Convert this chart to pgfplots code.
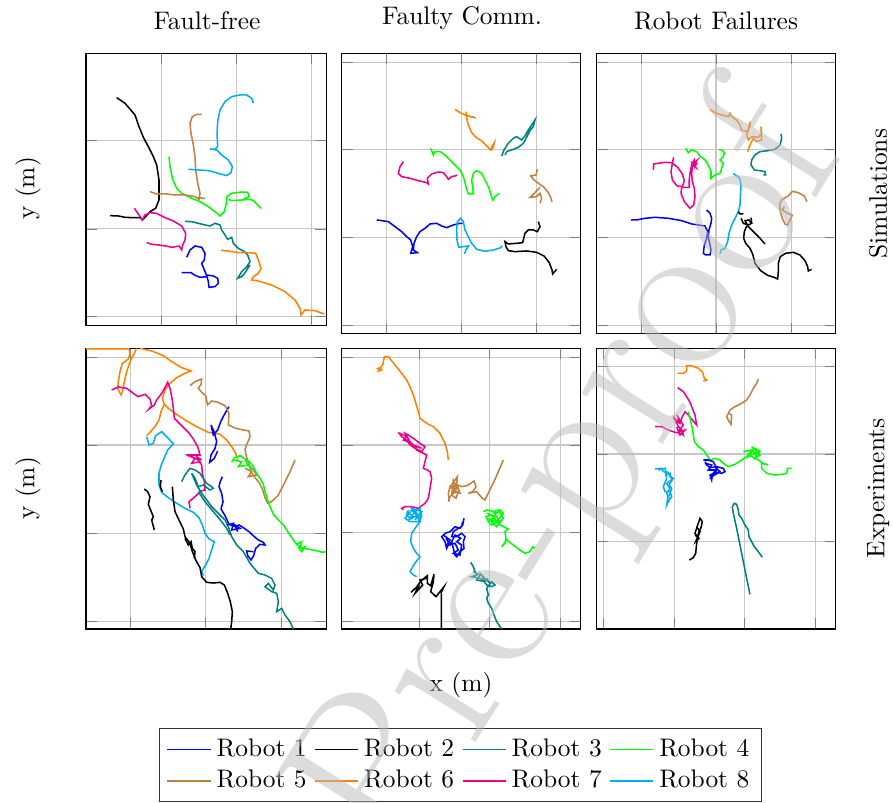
\documentclass[border=0pt]{standalone}
\usepackage{pgfplots}
\pgfplotsset{compat=1.18}
\definecolor{rbrown}{rgb}{0.75,0.5,0.25}
\definecolor{rorange}{rgb}{1,0.5,0}
\definecolor{rteal}{rgb}{0,0.5,0.5}
\definecolor{rgreen}{rgb}{0,1,0}
\definecolor{rmag}{RGB}{236,0,140}
\definecolor{rcyan}{RGB}{0,174,239}
\pgfplotsset{
  pan/.style={
    scale only axis, y dir=reverse, anchor=north west,
    xticklabels={}, yticklabels={},
    grid=major, major grid style={black!22},
    xmin=5, xmax=723, ymin=10, ymax=852,
    width=94.2pt, height=110.5pt,
    every axis plot/.append style={line width=0.6pt, no markers},
  },
}
\begin{document}
\begin{tikzpicture}
% titles and labels
\node[anchor=base] at (81.5pt,-11.42pt) {Fault-free};
\node[anchor=base] at (181.9pt,-9.45pt) {Faulty Comm.};
\node[anchor=base] at (281.9pt,-11.42pt) {Robot Failures};
\node[rotate=90] at (11.02pt,-74.2pt) {y (m)};
\node[rotate=90] at (11.02pt,-192.3pt) {y (m)};
\node[rotate=90] at (345.7pt,-76.2pt) {Simulations};
\node[rotate=90] at (345.7pt,-192.3pt) {Experiments};
\node at (181.5pt,-269.7pt) {x (m)};

% ---- simulations, fault-free
\begin{axis}[pan, at={(33.86pt,-20.98pt)}, width=94.49pt, height=107.35pt,
  xmin=3, xmax=723, ymin=10, ymax=828, xtick={228,455,680}, ytick={272,537,800}]
\addplot[blue] coordinates {(305,622)(315,600)(330,588)(350,592)(360,610)(358,630)(350,640)(356,655)(364,675)(385,678)(398,685)(400,700)(390,710)(372,712)(370,695)(366,680)(345,682)(330,676)(318,668)(290,668)};
\addplot[black] coordinates {(95,143)(120,160)(150,195)(162,230)(175,262)(190,290)(205,320)(215,345)(222,390)(222,450)(212,475)(195,485)(182,500)(172,510)(165,503)(140,503)(120,502)(100,498)(75,497)};
\addplot[rteal] coordinates {(300,514)(320,515)(340,520)(360,525)(375,528)(390,520)(405,525)(410,540)(420,555)(428,568)(440,562)(445,580)(460,595)(478,605)(488,615)(495,635)(485,650)(470,665)(458,685)(470,680)(480,668)(495,645)};
\addplot[rgreen] coordinates {(252,320)(255,350)(262,385)(275,415)(290,430)(320,445)(345,455)(370,470)(390,485)(405,498)(418,485)(424,460)(426,440)(440,430)(470,426)(488,427)(493,440)(470,450)(440,452)(430,448)(440,452)(470,450)(495,448)(505,452)(515,462)(528,475)};
\addplot[rbrown] coordinates {(195,425)(215,432)(245,432)(270,435)(300,435)(330,440)(342,448)(345,430)(338,400)(332,360)(330,320)(325,285)(318,250)(315,220)(322,200)(335,193)(350,193)};
\addplot[rbrown] coordinates {(338,442)(360,446)};
\addplot[rorange] coordinates {(408,601)(430,603)(460,608)(490,608)(512,610)(520,630)(528,655)(520,670)(505,680)(500,690)(520,693)(560,705)(600,725)(630,750)(645,775)(648,795)(660,780)(690,782)(718,792)};
\addplot[rmag] coordinates {(148,475)(160,492)(172,510)(180,495)(195,488)(215,490)(240,503)(265,513)(290,528)(302,550)(300,570)(293,585)(290,600)(282,588)(262,592)(240,588)(220,585)(200,583)(185,578)};
\addplot[rcyan] coordinates {(505,160)(500,145)(485,135)(465,135)(440,140)(420,155)(405,180)(398,215)(396,250)(398,290)(390,298)(375,297)(395,300)(410,315)(430,330)(442,350)(438,368)(425,377)(400,370)(370,362)(340,360)(310,358)};
\end{axis}

% ---- simulations, faulty comm
\begin{axis}[pan, at={(134.53pt,-20.98pt)}, xtick={138,363,590}, ytick={37,298,562,827}]
\addplot[rorange] coordinates {(345,178)(360,188)(378,196)(395,200)(407,204)(395,201)(380,196)(378,185)(380,205)(385,225)(395,248)(408,262)(425,273)(440,288)(452,300)(456,290)(463,278)(460,292)(452,302)};
\addplot[rteal] coordinates {(485,318)(492,300)(505,280)(520,265)(530,260)(545,270)(555,258)(565,240)(575,225)(585,210)(580,230)(570,242)(560,262)(550,280)(535,292)(515,300)(500,305)(495,315)};
\addplot[rmag] coordinates {(190,335)(180,350)(175,370)(185,380)(210,385)(235,392)(260,398)(265,402)(262,385)(275,372)(295,366)(310,368)(320,380)(325,388)(335,380)(345,378)(352,375)};
\addplot[rgreen] coordinates {(272,295)(280,315)(285,305)(300,305)(315,315)(330,330)(345,345)(360,360)(370,380)(378,410)(385,432)(400,432)(398,410)(395,390)(400,370)(410,362)(425,370)(435,390)(445,410)(452,430)(458,450)(465,440)(478,430)};
\addplot[rbrown] coordinates {(592,358)(588,375)(572,378)(582,390)(598,402)(612,412)(625,428)(632,442)(636,456)};
\addplot[rbrown] coordinates {(600,412)(585,428)(570,442)(590,440)(600,430)(605,445)(600,460)};
\addplot[blue] coordinates {(110,510)(125,512)(145,515)(165,530)(185,545)(200,560)(212,570)(218,590)(212,610)(232,608)(220,600)(222,580)(230,560)(240,545)(255,535)(270,522)(290,520)(305,528)(320,533)(340,525)(360,520)(368,520)};
\addplot[rcyan] coordinates {(373,612)(378,600)(385,588)(370,590)(356,592)(351,570)(350,540)(352,515)(362,505)(370,515)(375,540)(385,560)(395,580)(410,598)(435,604)(460,600)(480,594)(487,588)};
\addplot[black] coordinates {(595,515)(600,530)(592,545)(580,540)(565,540)(555,550)(550,570)(548,578)(530,580)(505,582)(495,575)(498,590)(505,602)(525,605)(560,603)(590,607)(612,618)(628,638)(636,660)(638,672)(650,658)};
\end{axis}

% ---- simulations, robot failures
\begin{axis}[pan, at={(234.92pt,-20.98pt)}, xtick={139,363,590}, ytick={37,298,562,827}]
\addplot[rorange] coordinates {(345,178)(360,188)(380,195)(400,200)(405,190)(410,200)(425,210)(435,225)(440,240)(455,245)(465,230)(465,215)(460,240)(455,255)(460,270)(470,260)(490,262)(500,250)(498,230)(500,270)(485,275)(475,265)(465,285)(458,305)};
\addplot[rteal] coordinates {(558,252)(560,265)(555,285)(540,298)(520,302)(495,305)(480,315)(470,330)(468,345)(478,360)(495,362)(510,365)(512,375)(505,375)};
\addplot[rmag] coordinates {(175,360)(176,342)(190,340)(210,337)(230,338)(248,352)(262,372)(268,392)(262,410)(246,408)(232,390)(228,365)(232,340)(236,322)};
\addplot[rmag] coordinates {(260,412)(258,430)(268,455)(285,475)(296,465)(300,440)(298,415)(292,395)(290,370)(292,350)(296,335)(305,340)(300,350)(298,330)(290,345)(285,370)(282,395)(283,412)(262,412)};
\addplot[rmag] coordinates {(288,335)(300,345)(292,350)(305,332)(295,340)(302,352)(290,342)};
\addplot[rgreen] coordinates {(272,295)(280,308)(290,300)(305,305)(315,318)(330,330)(340,345)(348,365)(348,385)(360,375)(375,370)(380,355)(385,340)(375,330)(385,320)(388,308)(380,300)(372,300)};
\addplot[rcyan] coordinates {(415,370)(420,375)(430,380)(436,390)(438,410)(436,440)(435,465)(430,485)(420,505)(410,525)(402,550)(398,575)(390,595)(378,600)(375,612)};
\addplot[blue] coordinates {(108,510)(125,510)(150,505)(180,502)(220,505)(260,512)(290,522)(310,525)(330,528)(338,545)(335,565)(328,585)(325,610)(332,615)(345,615)(348,600)(344,580)(340,560)(342,540)(348,520)(350,505)(345,490)(335,480)};
\addplot[black] coordinates {(438,505)(445,520)(460,525)(470,520)(462,510)(450,512)(460,530)(480,550)(495,565)(510,582)};
\addplot[black] coordinates {(430,485)(435,492)(445,492)};
\addplot[black] coordinates {(468,503)(470,518)};
\addplot[black] coordinates {(455,528)(448,545)(446,565)(452,580)(465,595)(473,612)(480,640)(497,662)(518,676)(540,683)(548,687)(550,665)(550,640)(556,620)(572,610)(595,607)(615,615)(630,632)(638,650)(640,663)(650,658)};
\addplot[rbrown] coordinates {(636,455)(628,438)(610,428)(592,424)(580,438)(562,448)(554,462)(556,485)(562,505)(570,522)(578,525)(585,510)(592,496)(578,490)(562,480)(568,470)};
\end{axis}

% ---- experiments, fault-free
\begin{axis}[pan, at={(33.86pt,-137.13pt)}, width=94.49pt,
  xmin=3, xtick={135,362,588}, ytick={37,300,565,830}]
\addplot[rorange] coordinates {(3,12)(60,12)(100,12)(132,12)(135,25)(130,42)(112,55)(105,80)(100,110)(98,130)(108,150)(112,140)(118,110)(125,80)(135,50)(148,25)(155,10)};
\addplot[rorange] coordinates {(165,10)(200,18)(235,32)(260,50)(290,68)(318,78)(300,85)(275,98)(255,115)(240,135)(232,160)(238,178)(250,190)(270,205)(300,225)(335,245)(370,262)(405,268)(425,285)(440,305)(452,325)(458,345)};
\addplot[rorange] coordinates {(238,178)(228,200)(222,225)(210,245)(195,262)(185,272)};
\addplot[rmag] coordinates {(80,135)(100,126)(125,130)(145,145)(160,155)(180,148)(195,162)(200,182)(192,192)(208,180)(215,165)(230,145)(240,128)(248,112)(255,130)(262,165)(266,200)(268,220)(288,240)(310,262)(325,282)(338,305)(345,330)(330,330)(310,330)(340,345)(350,360)(352,385)(358,410)(360,435)(348,438)(330,455)(312,470)(315,490)};
\addplot[rmag] coordinates {(305,330)(330,340)(320,355)(345,350)(335,335)(350,345)};
\addplot[rcyan] coordinates {(185,275)(192,300)(205,295)(212,272)(230,260)(248,278)(265,296)(248,315)(238,338)(228,362)(222,385)(222,420)(230,442)(250,458)(275,475)(300,490)(325,502)(342,518)(352,540)(360,565)(372,582)(388,590)(380,615)(372,640)(362,660)(350,678)(355,692)};
\addplot[rteal] coordinates {(290,410)(300,390)(315,370)(330,375)(345,385)(355,400)(365,415)(380,425)(385,430)(375,435)(355,420)(340,425)(330,400)(320,385)(335,420)(350,445)(365,465)(380,485)(400,505)(420,525)(430,545)(440,575)(455,600)(475,620)(495,655)(520,685)(540,690)(560,700)(570,720)(565,735)(550,715)(540,725)(560,740)(575,745)(580,770)(575,800)(590,790)(600,810)(615,830)(625,852)};
\addplot[rteal] coordinates {(340,440)(360,470)(385,500)(410,530)(425,550)(435,570)};
\addplot[blue] coordinates {(432,185)(420,205)(408,228)(398,255)(385,270)(378,240)(388,262)(395,290)(390,310)(378,330)(374,352)(388,340)(398,318)};
\addplot[blue] coordinates {(412,395)(405,412)(402,425)(410,445)(414,470)(408,492)(420,512)(432,538)(450,545)(462,540)(475,548)(492,560)(508,575)(520,585)(535,592)(540,600)(525,598)(512,610)(506,632)(498,645)(488,632)(485,618)(505,620)};
\addplot[blue] coordinates {(425,540)(445,535)(440,555)(465,550)(450,540)(458,560)};
\addplot[black] coordinates {(262,425)(265,465)(270,500)(282,525)(295,552)(300,575)(315,595)(322,620)(332,645)(345,668)(350,695)(365,712)(385,714)(405,712)(418,720)(428,745)(436,770)(442,800)(440,830)(437,852)};
\addplot[black] coordinates {(300,580)(310,600)(318,590)(322,610)(330,620)(328,640)};
\addplot[black] coordinates {(178,432)(188,440)(195,455)(190,478)(198,498)(205,515)(200,525)(208,555)};
\addplot[black] coordinates {(228,405)(226,425)(232,440)};
\addplot[rbrown] coordinates {(315,122)(330,110)(350,102)(348,118)(340,130)(350,142)(362,152)(368,180)(380,168)(400,172)(420,182)(432,205)(430,240)(452,250)(475,255)(492,258)(495,275)(488,292)(480,312)(484,335)(492,358)(498,380)(510,398)(522,412)(532,432)(540,458)(548,475)(562,468)(580,450)(598,415)(615,380)(630,345)};
\addplot[rbrown] coordinates {(480,370)(500,380)(490,395)(515,390)(505,375)(495,365)};
\addplot[rgreen] coordinates {(440,352)(448,338)(465,332)(480,342)(495,352)(505,365)(515,385)(525,400)(535,418)(540,440)(548,465)(555,485)(565,508)(580,525)(595,540)(605,555)(620,578)(635,598)(650,608)(668,612)(690,616)(712,622)(723,620)};
\addplot[rgreen] coordinates {(445,345)(470,350)(460,365)(490,360)(480,345)(500,375)};
\addplot[rgreen] coordinates {(635,598)(650,590)(645,612)(660,605)(650,620)(640,605)};
\end{axis}

% ---- experiments, faulty comm (holds the legend)
\begin{axis}[pan, at={(134.53pt,-137.13pt)}, xtick={237,448,662}, ytick={37,300,563,830},
  legend columns=4, legend cell align=left,
  legend style={at={(axis description cs:0.4965,-0.3527)}, anchor=north, draw=black!80,
    /tikz/every even column/.append style={column sep=1pt}}]
\addplot[blue] coordinates {(372,520)(368,540)(360,550)(345,545)(330,560)(315,565)(305,575)(315,590)(320,610)(325,600)(335,590)(340,610)(345,630)(350,635)(360,620)(372,610)(370,590)(375,575)(365,565)(350,575)(335,575)(340,560)(355,550)(365,545)(368,530)};
\addlegendentry{Robot 1}
\addplot[black] coordinates {(213,742)(228,728)(240,712)(252,700)(262,692)(262,715)(272,722)(282,688)(280,710)(272,740)(288,755)(300,740)(312,725)(304,742)(304,852)};
\addlegendentry{Robot 2}
\addplot[rteal] coordinates {(392,652)(400,665)(405,680)(410,690)(395,695)(420,700)(430,705)(440,720)(455,725)(465,720)(455,710)(440,730)(445,750)(440,760)(445,775)(455,790)(462,810)(470,830)(485,852)};
\addlegendentry{Robot 3}
\addplot[rgreen] coordinates {(430,500)(440,495)(455,498)(470,505)(480,495)(490,505)(478,520)(470,530)(455,540)(445,530)(438,515)(455,510)(475,535)(490,545)(505,552)(495,560)(498,580)(495,595)(485,605)(500,585)(520,600)(540,615)(555,625)(570,620)(578,605)(585,610)};
\addlegendentry{Robot 4}
\addplot[rbrown] coordinates {(328,468)(325,445)(330,425)(342,410)(352,395)(350,420)(345,440)(360,445)(352,420)(368,425)(385,420)(402,408)(408,425)(398,440)(385,445)(410,440)(425,458)(435,465)(448,438)(462,410)(475,380)(490,345)};
\addlegendentry{Robot 5}
\addplot[rorange] coordinates {(110,72)(120,68)(125,75)(115,78)(128,60)(133,35)(145,35)(165,60)(185,85)(200,105)(210,125)(220,150)(235,200)(240,220)(260,235)(280,245)(300,265)(315,295)(322,320)(325,345)};
\addlegendentry{Robot 6}
\addplot[rmag] coordinates {(175,262)(185,275)(200,285)(210,300)(225,310)(245,320)(255,305)(240,295)(220,280)(205,270)(195,265)(210,290)(230,315)(250,325)(260,330)(255,350)(250,370)(262,375)(270,380)(275,400)(270,430)(265,460)(255,475)(235,490)(215,485)(195,485)(185,490)(190,495)};
\addlegendentry{Robot 7}
\addplot[rcyan] coordinates {(205,495)(200,510)(210,520)(225,500)(240,490)(245,515)(235,520)(225,505)(215,495)(195,520)(210,530)(235,530)(245,505)(240,530)(225,550)(215,565)(212,590)(220,610)(230,625)(240,635)(228,650)(218,665)(210,680)(220,690)(230,695)};
\addlegendentry{Robot 8}
\addplot[blue, forget plot] coordinates {(310,570)(330,585)(320,600)(345,595)(355,615)(340,625)(360,630)(365,600)(350,590)(362,580)(345,570)(330,600)(318,580)};
\addplot[rbrown, forget plot] coordinates {(330,430)(345,420)(338,445)(355,440)(348,460)(335,450)(340,405)(352,430)(330,455)(325,470)};
\addplot[rgreen, forget plot] coordinates {(440,505)(465,515)(450,525)(480,530)(460,500)(475,495)(490,520)(470,545)(445,520)};
\addplot[rcyan, forget plot] coordinates {(200,500)(220,515)(205,525)(235,510)(215,490)(245,500)(225,525)};
\addplot[rmag, forget plot] coordinates {(180,265)(200,275)(190,285)(215,295)(230,310)(220,300)(245,310)};
\addplot[rteal, forget plot] coordinates {(400,680)(420,690)(410,705)(435,710)(425,690)(450,715)(440,700)};
\addplot[black, forget plot] coordinates {(220,735)(235,725)(225,745)(248,720)(240,705)(260,700)};
\end{axis}

% ---- experiments, robot failures
\begin{axis}[pan, at={(234.92pt,-137.13pt)}, xtick={25,237,448,662}, ytick={65,327,590}]
\addplot[rorange] coordinates {(248,85)(265,85)(275,78)(275,62)(290,62)(310,70)(322,80)(328,100)(335,105)(325,108)};
\addplot[rbrown] coordinates {(490,102)(485,115)(475,130)(465,150)(455,165)(440,175)(420,185)(405,195)(395,215)(400,225)(408,238)(410,210)(400,205)};
\addplot[rmag] coordinates {(248,128)(265,140)(275,155)(285,172)(290,185)(300,210)(305,240)(292,225)(280,210)(270,200)(262,215)(255,235)(245,230)(235,215)(240,225)(250,245)(260,255)(265,270)(258,265)(240,262)(220,255)(200,245)(180,245)};
\addplot[rmag] coordinates {(235,220)(255,230)(245,210)(265,240)(250,260)(270,255)(255,270)(245,245)};
\addplot[rgreen] coordinates {(280,200)(285,220)(292,250)(298,290)(310,305)(325,315)(335,330)(345,345)(360,340)(375,345)(385,355)(400,365)(420,358)(440,345)(455,335)(470,320)(480,310)(495,320)(485,330)(470,315)(460,330)(490,345)(505,355)(520,360)(500,355)(500,370)(515,385)(540,390)(560,388)(575,385)(578,370)(590,370)};
\addplot[rgreen] coordinates {(445,320)(470,315)(460,335)(490,318)(480,340)(495,330)(470,305)};
\addplot[blue] coordinates {(325,345)(340,345)(355,350)(365,370)(355,385)(345,390)(350,405)(352,390)(360,380)(380,385)(390,380)(385,370)(365,365)(345,368)(335,360)(330,350)};
\addplot[blue] coordinates {(330,355)(350,360)(340,375)(365,375)(350,395)(375,380)(360,365)};
\addplot[rcyan] coordinates {(180,372)(200,370)(205,380)(220,382)(225,395)(235,400)(228,410)(222,420)(230,430)(225,445)(218,460)(215,480)(220,470)(230,455)(225,440)(210,440)(205,425)(215,400)(210,380)};
\addplot[rcyan] coordinates {(190,375)(210,370)(215,390)(225,385)(230,405)(215,415)(225,430)(215,445)(222,460)};
\addplot[black] coordinates {(283,645)(295,638)(302,625)(304,605)(306,588)(310,578)(305,572)(300,565)(308,540)(315,520)(322,530)(318,548)(312,560)(308,575)};
\addplot[black] coordinates {(300,570)(312,580)(302,590)(315,560)(305,545)};
\addplot[rteal] coordinates {(465,748)(455,700)(445,650)(435,600)(425,550)(415,505)(412,485)(418,475)(425,478)(430,495)(432,510)(440,520)(450,540)(460,555)(462,575)(470,590)(478,605)(490,620)(502,637)};
\end{axis}

% watermark, drawn over everything
\node[rotate=58, text=black!27, text opacity=0.5, font=\fontsize{88}{96}\selectfont] at (226pt,-189pt) {Pre-proof};

\pgfresetboundingbox
\path[use as bounding box] (0,0) rectangle (351.57pt,-315.75pt);
\end{tikzpicture}
\end{document}
